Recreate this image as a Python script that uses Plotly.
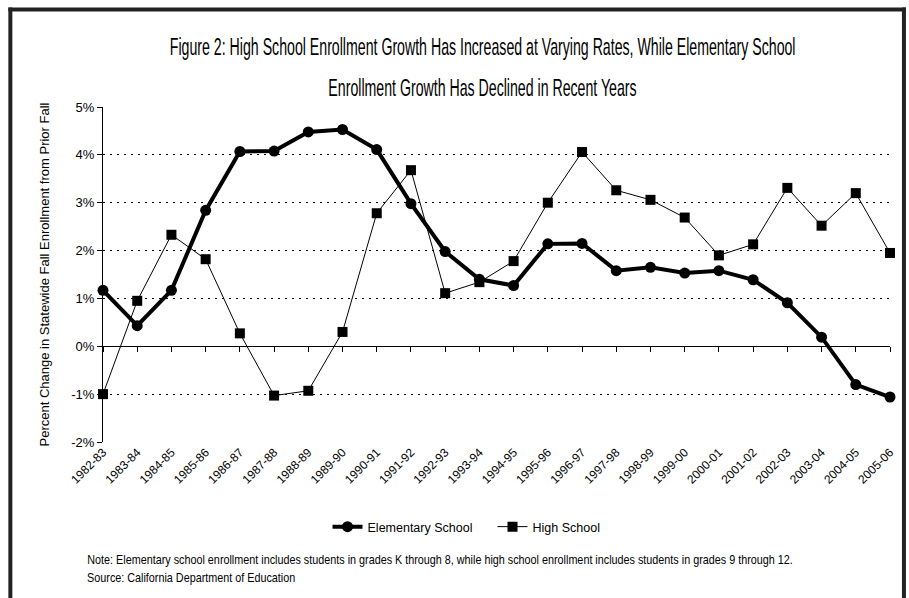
import plotly.graph_objects as go

# School years (fall-to-fall change)
years = ["1982-83", "1983-84", "1984-85", "1985-86", "1986-87", "1987-88",
         "1988-89", "1989-90", "1990-91", "1991-92", "1992-93", "1993-94",
         "1994-95", "1995-96", "1996-97", "1997-98", "1998-99", "1999-00",
         "2000-01", "2001-02", "2002-03", "2003-04", "2004-05", "2005-06"]

# Percent change in statewide fall enrollment from prior fall
elementary = [1.17, 0.43, 1.17, 2.84, 4.07, 4.08, 4.48, 4.53, 4.11, 2.98,
              1.98, 1.40, 1.27, 2.14, 2.15, 1.58, 1.65, 1.53, 1.58, 1.39,
              0.91, 0.19, -0.80, -1.06]
high_school = [-1.00, 0.95, 2.33, 1.82, 0.27, -1.03, -0.93, 0.30, 2.78, 3.68,
               1.11, 1.34, 1.78, 3.00, 4.06, 3.26, 3.06, 2.69, 1.90, 2.13,
               3.31, 2.52, 3.20, 1.95]

y_ticks = [-2, -1, 0, 1, 2, 3, 4, 5]

title_lines = ["Figure 2: High School Enrollment Growth Has Increased at Varying Rates, While Elementary School",
               "Enrollment Growth Has Declined in Recent Years"]
note_lines = ["Note: Elementary school enrollment includes students in grades K through 8, "
              "while high school enrollment includes students in grades 9 through 12.",
              "Source: California Department of Education"]

W, H = 909, 598
L, R, T, B = 103, 16, 107, 156
plot_w = W - L - R
plot_h = H - T - B

arial = "Liberation Sans, Arial, sans-serif"


def px_x(px):
    """Horizontal pixel position -> paper fraction."""
    return (px - L) / plot_w


def px_y(py):
    """Vertical pixel position (from top) -> paper fraction."""
    return (H - B - py) / plot_h


idx = list(range(len(years)))

fig = go.Figure()
fig.add_trace(go.Scatter(
    x=idx, y=elementary, name="Elementary School", mode="lines+markers",
    line=dict(color="black", width=4),
    marker=dict(symbol="circle", size=11, color="black"),
    cliponaxis=False,
))
fig.add_trace(go.Scatter(
    x=idx, y=high_school, name="High School", mode="lines+markers",
    line=dict(color="black", width=1),
    marker=dict(symbol="square", size=10, color="black"),
    cliponaxis=False,
))
# empty trace that carries the tick-mark axis drawn along the zero line
fig.add_trace(go.Scatter(x=idx, y=[None] * len(idx), xaxis="x2",
                         showlegend=False, hoverinfo="skip"))

annotations = []
for line, ypos in zip(title_lines, [46, 87]):
    annotations.append(dict(
        text=line, xref="paper", yref="paper", x=px_x(484), y=px_y(ypos),
        xanchor="center", yanchor="middle", showarrow=False,
        font=dict(family=arial, size=24, color="black")))
for line, ypos in zip(note_lines, [560, 578]):
    annotations.append(dict(
        text=line, xref="paper", yref="paper", x=px_x(85), y=px_y(ypos),
        xanchor="left", yanchor="middle", showarrow=False,
        font=dict(family=arial, size=12, color="black")))

frame = dict(color="#222", width=4)
fig.update_layout(
    width=W, height=H,
    margin=dict(l=L, r=R, t=T, b=B),
    paper_bgcolor="white", plot_bgcolor="white",
    showlegend=True,
    legend=dict(orientation="h", x=px_x(494), xanchor="center",
                y=px_y(527), yanchor="middle",
                font=dict(family=arial, size=12.5, color="black"),
                itemwidth=30, entrywidth=120),
    xaxis=dict(
        range=[0, len(years) - 1], tickmode="array", tickvals=idx,
        ticktext=years, tickangle=-45, ticks="", showgrid=False,
        showline=False, zeroline=False,
        tickfont=dict(family=arial, size=12, color="black"),
    ),
    xaxis2=dict(
        overlaying="x", anchor="free", position=2 / 7,
        range=[0, len(years) - 1], tickmode="array", tickvals=idx,
        showticklabels=False, ticks="outside", ticklen=5, tickcolor="black",
        showline=True, linecolor="black", linewidth=1, showgrid=False,
        zeroline=False,
    ),
    yaxis=dict(
        range=[-2, 5], tickmode="array", tickvals=y_ticks,
        ticktext=[f"{v}%" for v in y_ticks],
        ticks="outside", ticklen=5, tickcolor="black",
        showline=True, linecolor="black", linewidth=1,
        showgrid=True, gridcolor="black", gridwidth=1, griddash="2px,5px",
        zeroline=False,
        tickfont=dict(family=arial, size=13, color="black"),
        title=dict(text="Percent Change in Statewide Fall Enrollment from Prior Fall",
                   font=dict(family=arial, size=13, color="black"), standoff=18),
    ),
    shapes=[
        # outer frame of the figure panel (top, left, right)
        dict(type="line", xref="paper", yref="paper",
             x0=px_x(8), x1=px_x(W), y0=px_y(9.5), y1=px_y(9.5), line=frame),
        dict(type="line", xref="paper", yref="paper",
             x0=px_x(10), x1=px_x(10), y0=px_y(H), y1=px_y(7.5), line=frame),
        dict(type="line", xref="paper", yref="paper",
             x0=px_x(907), x1=px_x(907), y0=px_y(H), y1=px_y(7.5), line=frame),
    ],
    annotations=annotations,
)

# Horizontally condense the title and footnote lines to mimic a condensed face
squeeze_js = """
var gd = document.getElementById('{plot_id}');
function squeezeText() {
  var specs = [[0, 0.59, 'center'], [1, 0.59, 'center'],
               [2, 0.9, 'left'], [3, 0.9, 'left']];
  specs.forEach(function (s) {
    var t = gd.querySelector('.annotation[data-index="' + s[0] + '"] .annotation-text');
    if (!t) return;
    t.style.transformBox = 'fill-box';
    t.style.transformOrigin = s[2];
    t.style.transform = 'scaleX(' + s[1] + ')';
  });
}
squeezeText();
gd.on('plotly_afterplot', squeezeText);
"""

fig.write_html("out.html", post_script=squeeze_js)
